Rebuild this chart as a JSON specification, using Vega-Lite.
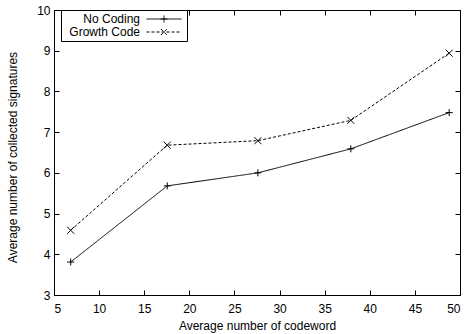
{
  "$schema": "https://vega.github.io/schema/vega-lite/v6.json",
  "width": 406,
  "height": 285,
  "autosize": "none",
  "padding": {"left": 54, "top": 10, "right": 7, "bottom": 39},
  "background": "white",
  "config": {
    "view": {"stroke": "black", "strokeWidth": 1},
    "font": "Liberation Sans",
    "axis": {
      "grid": false,
      "domain": false,
      "tickColor": "black",
      "tickSize": -5,
      "tickWidth": 1,
      "labelFont": "Liberation Sans",
      "labelFontSize": 12,
      "labelColor": "black",
      "titleFont": "Liberation Sans",
      "titleFontSize": 12,
      "titleFontWeight": "normal",
      "titleColor": "black"
    }
  },
  "data": {
    "values": [
      {"codeword": 6.85, "value": 3.81, "series": "No Coding"},
      {"codeword": 17.55, "value": 5.68, "series": "No Coding"},
      {"codeword": 27.6, "value": 6.0, "series": "No Coding"},
      {"codeword": 37.9, "value": 6.59, "series": "No Coding"},
      {"codeword": 48.8, "value": 7.48, "series": "No Coding"},
      {"codeword": 6.85, "value": 4.59, "series": "Growth Code"},
      {"codeword": 17.55, "value": 6.68, "series": "Growth Code"},
      {"codeword": 27.6, "value": 6.79, "series": "Growth Code"},
      {"codeword": 37.9, "value": 7.29, "series": "Growth Code"},
      {"codeword": 48.8, "value": 8.94, "series": "Growth Code"}
    ]
  },
  "layer": [
    {
      "mark": {"type": "line", "color": "black", "strokeWidth": 1},
      "encoding": {
        "x": {
          "field": "codeword", "type": "quantitative",
          "scale": {"domain": [5, 50], "nice": false},
          "axis": {"orient": "bottom", "values": [5, 10, 15, 20, 25, 30, 35, 40, 45, 50], "title": "Average number of codeword", "labelPadding": 13, "titlePadding": 6}
        },
        "y": {
          "field": "value", "type": "quantitative",
          "scale": {"domain": [3, 10], "nice": false, "zero": false},
          "axis": {"orient": "left", "values": [3, 4, 5, 6, 7, 8, 9, 10], "title": "Average number of collected signatures", "labelPadding": 9, "titleX": -35, "titleY": 147}
        },
        "strokeDash": {
          "field": "series", "type": "nominal",
          "scale": {"domain": ["No Coding", "Growth Code"], "range": [[1, 0], [3, 2]]},
          "legend": {
            "title": null,
            "orient": "none",
            "legendX": 7,
            "legendY": 0,
            "strokeColor": "black",
            "fillColor": "white",
            "cornerRadius": 0,
            "padding": 3,
            "labelFont": "Liberation Sans",
            "labelFontSize": 12,
            "labelColor": "black",
            "symbolSize": 100,
            "symbolStrokeColor": "black",
            "symbolStrokeWidth": 1,
            "symbolFillColor": "transparent",
            "rowPadding": 1,
            "encode": {
              "symbols": {
                "update": {
                  "x": {"value": 100},
                  "shape": {"signal": "datum.value === 'No Coding' ? 'M-3.5,0L3.5,0M0,-0.7L0,0.7M-0.7,0L0.7,0' : 'M-3.5,0L3.5,0M-0.6,-0.6L0.6,0.6M-0.6,0.6L0.6,-0.6'"}
                }
              },
              "labels": {
                "update": {
                  "x": {"value": 76},
                  "align": {"value": "right"}
                }
              }
            }
          }
        }
      }
    },
    {
      "transform": [{"filter": "datum.series === 'No Coding'"}],
      "mark": {"type": "point", "filled": false, "color": "black", "size": 49, "strokeWidth": 1, "opacity": 1, "shape": "M-1,0L1,0M0,-1L0,1"},
      "encoding": {
        "x": {
          "field": "codeword", "type": "quantitative",
          "scale": {"domain": [5, 50], "nice": false},
          "axis": {"orient": "top", "values": [5, 10, 15, 20, 25, 30, 35, 40, 45, 50], "labels": false, "title": null}
        },
        "y": {
          "field": "value", "type": "quantitative",
          "scale": {"domain": [3, 10], "nice": false, "zero": false},
          "axis": {"orient": "right", "values": [3, 4, 5, 6, 7, 8, 9, 10], "labels": false, "title": null}
        }
      }
    },
    {
      "transform": [{"filter": "datum.series === 'Growth Code'"}],
      "mark": {"type": "point", "filled": false, "color": "black", "size": 49, "strokeWidth": 1, "opacity": 1, "shape": "M-1,-1L1,1M-1,1L1,-1"},
      "encoding": {
        "x": {"field": "codeword", "type": "quantitative", "scale": {"domain": [5, 50], "nice": false}, "axis": null},
        "y": {"field": "value", "type": "quantitative", "scale": {"domain": [3, 10], "nice": false, "zero": false}, "axis": null}
      }
    }
  ],
  "resolve": {"axis": {"x": "independent", "y": "independent"}}
}
